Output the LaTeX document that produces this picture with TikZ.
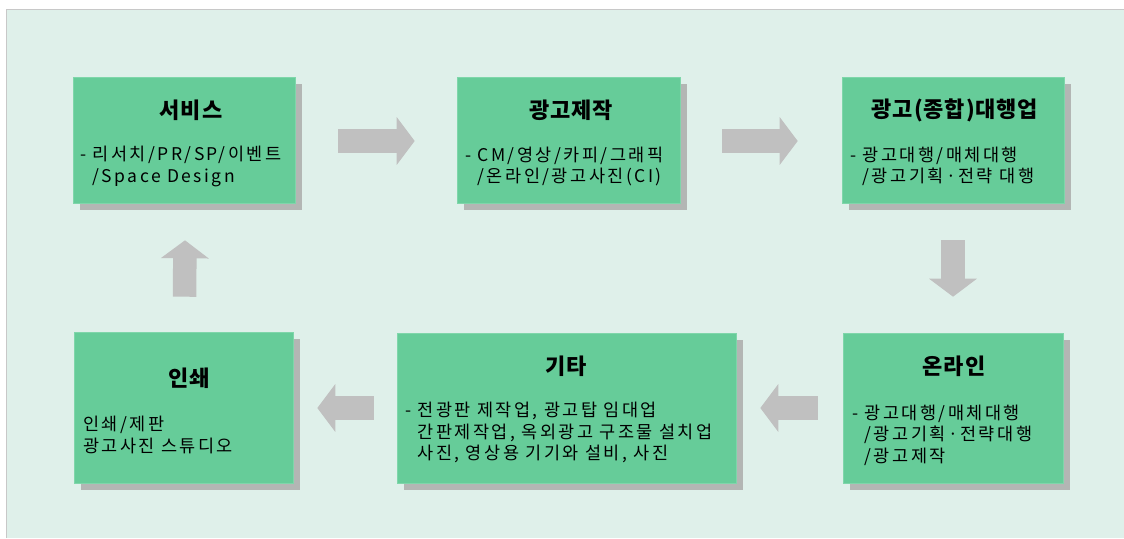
\documentclass[tikz,border=0pt]{standalone}
\usepackage{fontspec}
\newfontfamily\krbody{Noto Sans CJK KR}[LetterSpace=14]
\newfontfamily\krtitle{Noto Sans CJK KR}[LetterSpace=4]
\usetikzlibrary{arrows.meta,shadows}
\definecolor{bgmint}{HTML}{DFF0EA}
\definecolor{boxgreen}{HTML}{66CC99}
\definecolor{boxedge}{HTML}{7FD6AA}
\definecolor{shadowc}{HTML}{B3B6B4}
\definecolor{arrowc}{HTML}{C0C0C0}
\definecolor{framec}{HTML}{C8C8C8}
\begin{document}
\begin{tikzpicture}[x=1pt,y=-1pt,
  box/.style={fill=boxgreen, draw=boxedge, line width=0.6pt, inner sep=0pt,
    drop shadow={shadow xshift=7pt, shadow yshift=-7pt, fill=shadowc, opacity=1}},
  ttl/.style={inner sep=0pt, font=\krtitle\bfseries\fontsize{22}{26}\selectfont},
  body/.style={inner sep=0pt, anchor=west, align=left, font=\krbody\fontsize{17.5}{21.5}\selectfont},
  blockarrow/.style={draw=arrowc, line width=23.5pt, -{Triangle[length=18pt,width=47pt]}}
]
\useasboundingbox (0,0) rectangle (1124,538);
\fill[white] (0,0) rectangle (1124,538);
\fill[bgmint] (6.5,9.5) rectangle (1124,538);
\draw[framec, line width=1.8pt] (6.5,538) -- (6.5,9.5) -- (1124,9.5);

% boxes
\node[box, minimum width=222pt, minimum height=126pt] (b1) at (184,140) {};
\node[box, minimum width=223pt, minimum height=126pt] (b2) at (568.5,140) {};
\node[box, minimum width=222pt, minimum height=126pt] (b3) at (953,140) {};
\node[box, minimum width=220pt, minimum height=150pt] (b4) at (953,408) {};
\node[box, minimum width=339pt, minimum height=150pt] (b5) at (566.5,408) {};
\node[box, minimum width=219pt, minimum height=151pt] (b6) at (183.5,407.5) {};

% titles
\node[ttl] (t1) at (191,110) {서비스};
\node[ttl] (t2) at (571,110) {광고제작};
\node[ttl] (t3) at (955,110) {광고(종합)대행업};
\node[ttl] (t4) at (954,366) {온라인};
\node[ttl] (t5) at (566,366) {기타};
\node[ttl] (t6) at (189,378) {인쇄};

% bodies
\node[body] (d1) at (80,166.5) {- 리서치/PR/SP/이벤트\\\phantom{- }/Space Design};
\node[body] (d2) at (465,166.5) {- CM/영상/카피/그래픽\\\phantom{- }/온라인/광고사진(CI)};
\node[body] (d3) at (850,166.5) {- 광고대행/매체대행\\\phantom{- }/광고기획·전략 대행};
\node[body] (d4) at (852,435) {- 광고대행/매체대행\\\phantom{- }/광고기획·전략대행\\\phantom{- }/광고제작};
\node[body] (d5) at (405,432.5) {- 전광판 제작업, 광고탑 임대업\\\phantom{- }간판제작업, 옥외광고 구조물 설치업\\\phantom{- }사진, 영상용 기기와 설비, 사진};
\node[body] (d6) at (83,435) {인쇄/제판\\광고사진 스튜디오};

% arrows
\draw[blockarrow] ([xshift=43pt,yshift=-1pt]b1.east) -- ([xshift=-42pt,yshift=-1pt]b2.west);
\draw[blockarrow] ([xshift=42pt,yshift=-1pt]b2.east) -- ([xshift=-44pt,yshift=-1pt]b3.west);
\draw[blockarrow] ([yshift=-37pt]b3.south) -- ([yshift=36pt]b4.north);
\draw[blockarrow] ([xshift=-25pt]b4.west) -- ([xshift=24pt]b5.east);
\draw[blockarrow] ([xshift=-23pt]b5.west) -- ([xshift=24pt]b6.east |- b5.west);
\draw[blockarrow] ([xshift=1pt,yshift=35pt]b6.north) -- ([xshift=1pt,yshift=-37pt]b1.south);
\end{tikzpicture}
\end{document}
